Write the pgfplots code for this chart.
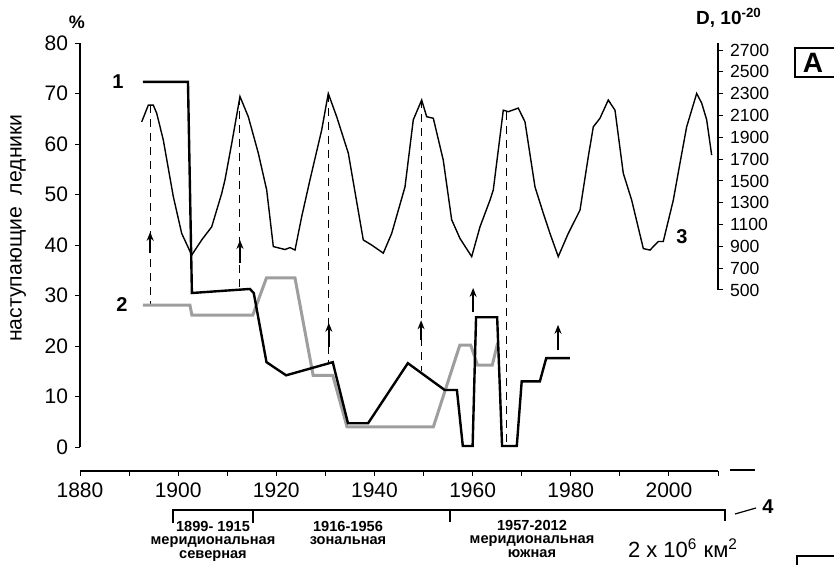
\documentclass[border=0pt]{standalone}
\usepackage{fontspec}
\setmainfont{Liberation Sans}
\setsansfont{Liberation Sans}
\usepackage{pgfplots}
\pgfplotsset{compat=1.18}
\usetikzlibrary{arrows.meta}
\definecolor{grayline}{RGB}{158,158,158}

\begin{document}
\begin{tikzpicture}
\useasboundingbox (0,0) rectangle (417pt,282pt);
\clip (0,0) rectangle (417pt,282pt);
\pgfplotsset{
  base/.style={scale only axis, width=319pt, height=214pt,
    at={(40pt,46.5pt)}, anchor=south west,
    xmin=1880, xmax=2010, clip=false,
    /pgf/number format/assume math mode=true,
    /pgf/number format/1000 sep={},
    tick style={black, line width=0.5pt},
    major tick length=2.5pt, minor tick length=2.5pt,
    tick align=outside},
  arr/.style={black, line width=0.7pt, -{Stealth[length=4.5pt,width=3.5pt]}},
  guide/.style={black, line width=0.5pt, dash pattern=on 4pt off 3pt},
}
% left axis: advancing glaciers, %
\begin{axis}[base, ymin=-4.75, ymax=80,
  axis x line*=bottom, axis y line*=left,
  y axis line style={draw=none},
  x axis line style={line width=1pt},
  xtick={1880,1900,...,2000}, minor xtick={1890,1910,...,2010},
  ytick={0,10,...,80},
  tick label style={font=\fontsize{10.5}{12}\selectfont}]
\draw[line width=0.9pt] (axis cs:1880,0) -- (axis cs:1880,80);

% guide lines from D maxima
\addplot[guide] coordinates {(1894.3,67.7) (1894.3,28.1)};
\addplot[guide] coordinates {(1912.6,69.4) (1912.6,31.3)};
\addplot[guide] coordinates {(1930.7,70.0) (1930.7,16.8)};
\addplot[guide] coordinates {(1949.5,68.7) (1949.5,15.0)};
\addplot[guide] coordinates {(1967.0,66.4) (1967.0,0.2)};

% series 2 (gray)
\addplot[grayline, line width=1.5pt] coordinates {
 (1892.8,28.1) (1902.4,28.1) (1902.8,26.1) (1915.2,26.1) (1918,33.5)
 (1923.8,33.5) (1927.5,14.2) (1931.5,14.2) (1934.4,4) (1952,4)
 (1957.4,20.2) (1959.6,20.2) (1961,16.2) (1964,16.2) (1965.1,20.6)};

% series 1 (black)
\addplot[black, line width=1.2pt] coordinates {
 (1892.8,72.3) (1902,72.3) (1902.8,30.5) (1914.6,31.3) (1915.4,30.5)
 (1918,16.8) (1922,14.2) (1931.5,16.8) (1934.6,4.7) (1938.7,4.7)
 (1946.8,16.6) (1954.3,11.3) (1956.8,11.3) (1958,0.2) (1960,0.2)
 (1960.7,25.7) (1965,25.7) (1966,0.2) (1969,0.2) (1970,13)
 (1973.7,13) (1975,17.6) (1979.8,17.6)};

% arrows
\addplot[arr] coordinates {(1894.3,38.4) (1894.3,42.6)};
\addplot[arr] coordinates {(1912.6,36.4) (1912.6,41.0)};
\addplot[arr] coordinates {(1930.7,19.8) (1930.7,24.6)};
\addplot[arr] coordinates {(1949.5,21.2) (1949.5,25.1)};
\addplot[arr] coordinates {(1960.1,26.7) (1960.1,31.5)};
\addplot[arr] coordinates {(1977.4,19.2) (1977.4,24.2)};
\end{axis}

% right axis: D, 10^-20
\begin{axis}[base, ymin=-1160, ymax=2765,
  axis x line=none, axis y line*=right,
  y axis line style={draw=none},
  ytick={500,700,...,2700},
  tick label style={font=\fontsize{8.8}{10}\selectfont}]
\draw[line width=0.8pt] (axis cs:2010,500) -- (axis cs:2010,2765);
\addplot[black, line width=0.7pt] coordinates {
 (1892.57,2042) (1893.92,2195) (1894.93,2195) (1895.63,2121) (1896.97,1876)
 (1899.01,1357) (1900.72,1019) (1902.76,820) (1904.80,959) (1906.83,1079)
 (1908.87,1385) (1909.54,1510) (1910.91,1843) (1912.60,2274) (1914.29,2089)
 (1916.33,1755) (1918.04,1417) (1919.39,898) (1921.77,871) (1922.79,889)
 (1923.81,866) (1925.17,1172) (1926.86,1510) (1929.25,1968) (1930.59,2302)
 (1932.30,2089) (1934.67,1755) (1937.72,959) (1939.43,912) (1941.80,838)
 (1943.51,1019) (1946.22,1445) (1947.91,2061) (1949.62,2242) (1950.64,2089)
 (1951.99,2075) (1954.02,1690) (1955.73,1144) (1957.43,972) (1959.81,806)
 (1961.50,1079) (1963.54,1324) (1964.21,1417) (1966.25,2149) (1967.27,2135)
 (1969.30,2168) (1970.67,2042) (1972.71,1445) (1974.40,1204) (1975.76,1019)
 (1977.45,806) (1979.49,1019) (1981.88,1232) (1983.57,1723) (1984.59,1996)
 (1985.95,2075) (1987.64,2242) (1989.01,2149) (1990.70,1570) (1992.41,1324)
 (1994.78,880) (1996.14,866) (1997.83,945) (1998.85,945) (2000.89,1324)
 (2002.25,1663) (2003.61,1996) (2005.65,2302) (2006.67,2214) (2007.69,2061)
 (2008.71,1737)};
\end{axis}

% annotations, in pixel units of the reference
\begin{scope}[x=0.5pt, y=-0.5pt, shift={(0,282pt)}]
\node[font=\bfseries\fontsize{9}{10}\selectfont] at (77,22) {\%};
\node[font=\bfseries\fontsize{9.5}{11}\selectfont] at (729,18) {D, 10\textsuperscript{-20}};
\draw[line width=0.8pt] (795,48) rectangle (860,77);
\node[font=\bfseries\fontsize{14}{16}\selectfont] at (813,63) {A};
\node[font=\bfseries\fontsize{10}{12}\selectfont] at (118,82) {1};
\node[font=\bfseries\fontsize{10}{12}\selectfont] at (122,305) {2};
\node[font=\bfseries\fontsize{10}{12}\selectfont] at (682,237) {3};
\node[rotate=90, font=\fontsize{10.6}{12}\selectfont] at (18,228) {наступающие\ \ ледники};
\draw[line width=0.9pt] (730,470) -- (755,470);
% circulation epochs (4)
\draw[line width=1.1pt] (173,523) -- (173,510) -- (725,510) -- (725,521);
\draw[line width=1.1pt] (253,510) -- (253,523);
\draw[line width=1.1pt] (450,510) -- (450,522);
\begin{scope}[every node/.style={font=\bfseries\fontsize{7.3}{6.6}\selectfont,
    inner sep=0pt, align=center, anchor=north}]
\node at (213,521) {1899- 1915\\меридиональная\\северная};
\node at (348,521) {1916-1956\\зональная};
\node at (532,520) {1957-2012\\меридиональная\\южная};
\end{scope}
\node[font=\fontsize{11}{12}\selectfont] at (683,548) {2 x 10\textsuperscript{6} км\textsuperscript{2}};
\draw[line width=0.6pt] (735,514) -- (756,508);
\node[font=\bfseries\fontsize{10}{12}\selectfont] at (768,507) {4};
\draw[line width=0.8pt] (797,556) rectangle (860,600);
\node[font=\bfseries\fontsize{14}{16}\selectfont] at (815,576) {Б};
\end{scope}
\end{tikzpicture}
\end{document}
